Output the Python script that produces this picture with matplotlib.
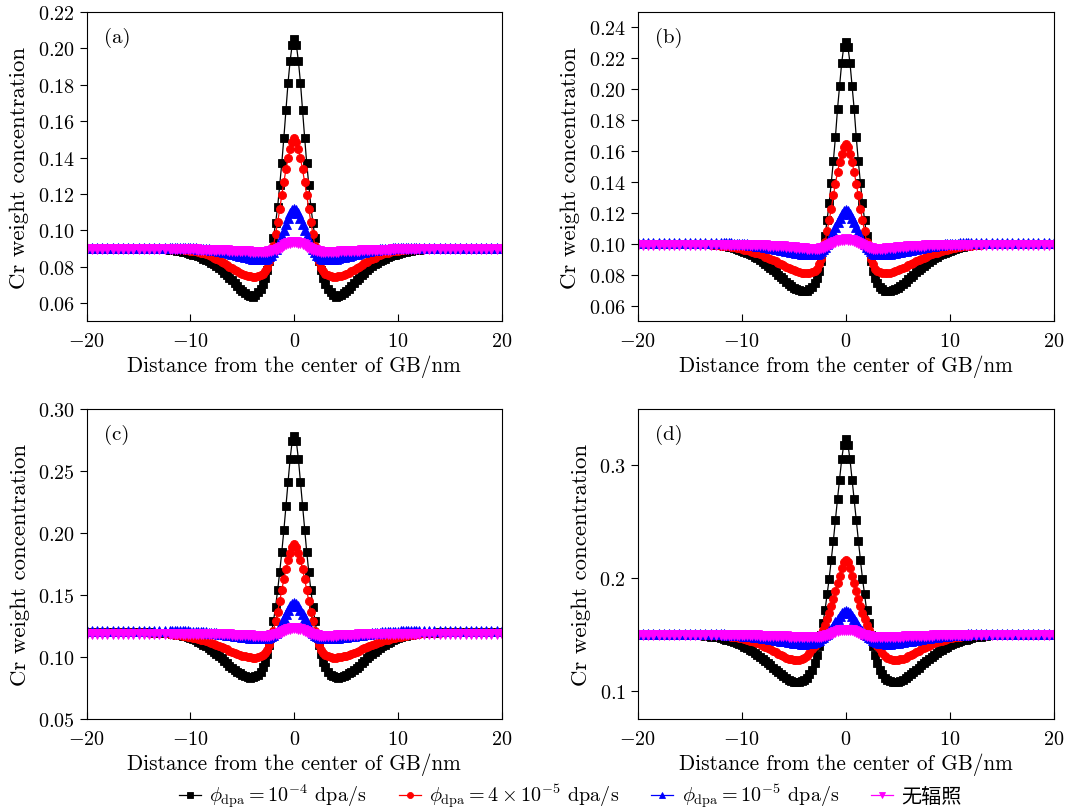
import numpy as np
import matplotlib
matplotlib.use("Agg")
import matplotlib.pyplot as plt

plt.rcParams["font.family"] = ["cmr10", "Noto Sans CJK SC"]
plt.rcParams["mathtext.fontset"] = "cm"
plt.rcParams["axes.formatter.use_mathtext"] = True
plt.rcParams["axes.unicode_minus"] = True

# sampling grid of one half of the profile (x >= 0), mirrored to x < 0
x_inner = np.round(np.arange(0.0, 3.01, 0.2), 2)      # 16 points
x_outer = np.arange(3.25, 12.01, 0.25)                # 36 points
x_far = np.arange(12.5, 20.01, 0.5)                   # 16 points
x_half = np.concatenate([x_inner, x_outer, x_far])

labels = [
    r"$\phi_{\mathrm{dpa}}=10^{-4}$ dpa/s",
    r"$\phi_{\mathrm{dpa}}=4\times10^{-5}$ dpa/s",
    r"$\phi_{\mathrm{dpa}}=10^{-5}$ dpa/s",
    "无辐照",
]
panel_names = ["(a)", "(b)", "(c)", "(d)"]

# ---- panel (a) ----
a_black = [0.2050, 0.2020, 0.1930, 0.1810, 0.1660, 0.1510, 0.1370, 0.1250,
           0.1130, 0.1040, 0.0960, 0.0890, 0.0830, 0.0780, 0.0740, 0.0705,
           0.0680, 0.0660, 0.0645, 0.0635, 0.0637, 0.0645, 0.0654, 0.0665,
           0.0680, 0.0695, 0.0710, 0.0725, 0.0740, 0.0755, 0.0768, 0.0780,
           0.0793, 0.0805, 0.0814, 0.0822, 0.0830, 0.0838, 0.0845, 0.0851,
           0.0857, 0.0862, 0.0867, 0.0871, 0.0875, 0.0879, 0.0882, 0.0885,
           0.0888, 0.0890, 0.0892, 0.0893,
           0.0896, 0.0898, 0.0899, 0.0900, 0.0900, 0.0900, 0.0900, 0.0900,
           0.0900, 0.0900, 0.0900, 0.0900, 0.0900, 0.0900, 0.0900, 0.0900]
a_red = [0.1505, 0.1486, 0.1445, 0.1395, 0.1335, 0.1265, 0.1195, 0.1115,
         0.1045, 0.0978, 0.0915, 0.0865, 0.0825, 0.0795, 0.0775, 0.0760,
         0.0753, 0.0748, 0.0746, 0.0745, 0.0747, 0.0750, 0.0755, 0.0760,
         0.0767, 0.0775, 0.0783, 0.0792, 0.0801, 0.0810, 0.0819, 0.0828,
         0.0836, 0.0843, 0.0850, 0.0857, 0.0863, 0.0868, 0.0873, 0.0877,
         0.0881, 0.0884, 0.0887, 0.0889, 0.0891, 0.0893, 0.0895, 0.0896,
         0.0897, 0.0898, 0.0899, 0.0899,
         0.0900, 0.0900, 0.0900, 0.0900, 0.0900, 0.0900, 0.0900, 0.0900,
         0.0900, 0.0900, 0.0900, 0.0900, 0.0900, 0.0900, 0.0900, 0.0900]
a_blue = [0.1120, 0.1113, 0.1095, 0.1068, 0.1035, 0.1002, 0.0970, 0.0942,
          0.0918, 0.0897, 0.0880, 0.0867, 0.0857, 0.0850, 0.0845, 0.0843,
          0.0842, 0.0842, 0.0843, 0.0845, 0.0848, 0.0851, 0.0854, 0.0858,
          0.0861, 0.0865, 0.0868, 0.0872, 0.0875, 0.0879, 0.0882, 0.0885,
          0.0888, 0.0890, 0.0892, 0.0894, 0.0896, 0.0897, 0.0898, 0.0899,
          0.0900, 0.0901, 0.0901, 0.0902, 0.0902, 0.0903, 0.0903, 0.0904,
          0.0904, 0.0904, 0.0905, 0.0905,
          0.0905, 0.0905, 0.0905, 0.0905, 0.0905, 0.0905, 0.0905, 0.0905,
          0.0905, 0.0905, 0.0905, 0.0905, 0.0905, 0.0905, 0.0905, 0.0905]
a_magenta = [0.0935, 0.0934, 0.0932, 0.0928, 0.0923, 0.0917, 0.0911, 0.0905,
             0.0899, 0.0894, 0.0890, 0.0886, 0.0884, 0.0882, 0.0881, 0.0881,
             0.0881, 0.0881, 0.0881, 0.0882, 0.0883, 0.0884, 0.0885, 0.0886,
             0.0886, 0.0887, 0.0888, 0.0889, 0.0889, 0.0890, 0.0890, 0.0891,
             0.0891, 0.0892, 0.0892, 0.0893, 0.0893, 0.0894, 0.0894, 0.0894,
             0.0894, 0.0895, 0.0895, 0.0895, 0.0895, 0.0895, 0.0895, 0.0895,
             0.0895, 0.0895, 0.0895, 0.0895,
             0.0895, 0.0895, 0.0895, 0.0895, 0.0895, 0.0895, 0.0895, 0.0895,
             0.0895, 0.0895, 0.0895, 0.0895, 0.0895, 0.0895, 0.0895, 0.0895]

# ---- panel (b) ----
b_black = [0.2303, 0.2275, 0.2170, 0.2024, 0.1873, 0.1691, 0.1536, 0.1396,
           0.1267, 0.1155, 0.1052, 0.0965, 0.0890, 0.0828, 0.0780, 0.0745,
           0.0724, 0.0708, 0.0699, 0.0695, 0.0696, 0.0700, 0.0708, 0.0718,
           0.0730, 0.0743, 0.0757, 0.0772, 0.0787, 0.0802, 0.0817, 0.0832,
           0.0846, 0.0860, 0.0873, 0.0885, 0.0896, 0.0907, 0.0917, 0.0926,
           0.0935, 0.0944, 0.0951, 0.0958, 0.0964, 0.0970, 0.0975, 0.0979,
           0.0983, 0.0986, 0.0989, 0.0991,
           0.0995, 0.0997, 0.0999, 0.1000, 0.1000, 0.1000, 0.1000, 0.1000,
           0.1000, 0.1000, 0.1000, 0.1000, 0.1000, 0.1000, 0.1000, 0.1000]
b_red = [0.1647, 0.1626, 0.1583, 0.1530, 0.1465, 0.1390, 0.1314, 0.1228,
         0.1153, 0.1082, 0.1013, 0.0955, 0.0905, 0.0868, 0.0840, 0.0825,
         0.0818, 0.0813, 0.0812, 0.0812, 0.0814, 0.0818, 0.0824, 0.0830,
         0.0837, 0.0845, 0.0853, 0.0862, 0.0871, 0.0880, 0.0889, 0.0897,
         0.0905, 0.0912, 0.0919, 0.0926, 0.0933, 0.0939, 0.0945, 0.0950,
         0.0955, 0.0960, 0.0964, 0.0968, 0.0972, 0.0975, 0.0978, 0.0981,
         0.0984, 0.0986, 0.0988, 0.0990,
         0.0993, 0.0996, 0.0998, 0.1000, 0.1000, 0.1000, 0.1000, 0.1000,
         0.1000, 0.1000, 0.1000, 0.1000, 0.1000, 0.1000, 0.1000, 0.1000]
b_blue = [0.1217, 0.1211, 0.1195, 0.1170, 0.1140, 0.1108, 0.1077, 0.1050,
          0.1025, 0.1003, 0.0983, 0.0966, 0.0953, 0.0944, 0.0938, 0.0935,
          0.0934, 0.0933, 0.0933, 0.0934, 0.0937, 0.0940, 0.0943, 0.0946,
          0.0950, 0.0953, 0.0957, 0.0960, 0.0964, 0.0967, 0.0970, 0.0973,
          0.0976, 0.0979, 0.0982, 0.0984, 0.0987, 0.0989, 0.0991, 0.0993,
          0.0995, 0.0997, 0.0999, 0.1000, 0.1001, 0.1002, 0.1003, 0.1004,
          0.1005, 0.1005, 0.1006, 0.1006,
          0.1007, 0.1008, 0.1008, 0.1008, 0.1008, 0.1008, 0.1008, 0.1008,
          0.1008, 0.1008, 0.1008, 0.1008, 0.1008, 0.1008, 0.1008, 0.1008]
b_magenta = [0.1030, 0.1029, 0.1027, 0.1023, 0.1018, 0.1012, 0.1005, 0.0998,
             0.0991, 0.0985, 0.0980, 0.0976, 0.0973, 0.0971, 0.0970, 0.0970,
             0.0970, 0.0970, 0.0971, 0.0972, 0.0973, 0.0975, 0.0976, 0.0978,
             0.0979, 0.0981, 0.0982, 0.0984, 0.0985, 0.0986, 0.0987, 0.0988,
             0.0989, 0.0990, 0.0991, 0.0992, 0.0992, 0.0993, 0.0993, 0.0994,
             0.0994, 0.0995, 0.0995, 0.0996, 0.0996, 0.0996, 0.0996, 0.0996,
             0.0996, 0.0996, 0.0996, 0.0996,
             0.0996, 0.0996, 0.0996, 0.0996, 0.0996, 0.0996, 0.0996, 0.0996,
             0.0996, 0.0996, 0.0996, 0.0996, 0.0996, 0.0996, 0.0996, 0.0996]

# ---- panel (c) ----
c_black = [0.2785, 0.2740, 0.2597, 0.2409, 0.2220, 0.2024, 0.1849, 0.1688,
           0.1540, 0.1406, 0.1293, 0.1190, 0.1100, 0.1025, 0.0965, 0.0918,
           0.0884, 0.0860, 0.0845, 0.0838, 0.0836, 0.0840, 0.0847, 0.0857,
           0.0870, 0.0884, 0.0899, 0.0915, 0.0933, 0.0952, 0.0971, 0.0990,
           0.1008, 0.1025, 0.1042, 0.1058, 0.1073, 0.1088, 0.1101, 0.1114,
           0.1125, 0.1136, 0.1145, 0.1154, 0.1161, 0.1168, 0.1174, 0.1179,
           0.1183, 0.1187, 0.1190, 0.1192,
           0.1195, 0.1197, 0.1199, 0.1200, 0.1200, 0.1200, 0.1200, 0.1200,
           0.1200, 0.1200, 0.1200, 0.1200, 0.1200, 0.1200, 0.1200, 0.1200]
c_red = [0.1911, 0.1888, 0.1840, 0.1781, 0.1710, 0.1628, 0.1544, 0.1450,
         0.1368, 0.1290, 0.1214, 0.1150, 0.1098, 0.1060, 0.1033, 0.1017,
         0.1007, 0.1000, 0.0997, 0.0997, 0.0999, 0.1002, 0.1007, 0.1013,
         0.1020, 0.1028, 0.1036, 0.1045, 0.1054, 0.1063, 0.1072, 0.1081,
         0.1090, 0.1098, 0.1106, 0.1114, 0.1121, 0.1128, 0.1135, 0.1141,
         0.1147, 0.1152, 0.1157, 0.1162, 0.1166, 0.1170, 0.1174, 0.1177,
         0.1180, 0.1183, 0.1186, 0.1188,
         0.1192, 0.1195, 0.1197, 0.1199, 0.1200, 0.1200, 0.1200, 0.1200,
         0.1200, 0.1200, 0.1200, 0.1200, 0.1200, 0.1200, 0.1200, 0.1200]
c_blue = [0.1436, 0.1429, 0.1410, 0.1382, 0.1348, 0.1312, 0.1277, 0.1246,
          0.1220, 0.1199, 0.1182, 0.1170, 0.1162, 0.1157, 0.1155, 0.1154,
          0.1153, 0.1153, 0.1154, 0.1155, 0.1157, 0.1159, 0.1162, 0.1165,
          0.1168, 0.1171, 0.1174, 0.1177, 0.1180, 0.1183, 0.1186, 0.1188,
          0.1191, 0.1193, 0.1195, 0.1197, 0.1199, 0.1200, 0.1202, 0.1203,
          0.1204, 0.1205, 0.1206, 0.1207, 0.1208, 0.1208, 0.1209, 0.1209,
          0.1210, 0.1210, 0.1211, 0.1211,
          0.1212, 0.1212, 0.1212, 0.1212, 0.1212, 0.1212, 0.1212, 0.1212,
          0.1212, 0.1212, 0.1212, 0.1212, 0.1212, 0.1212, 0.1212, 0.1212]
c_magenta = [0.1234, 0.1233, 0.1230, 0.1226, 0.1220, 0.1213, 0.1205, 0.1197,
             0.1190, 0.1184, 0.1179, 0.1176, 0.1174, 0.1173, 0.1172, 0.1172,
             0.1172, 0.1172, 0.1173, 0.1174, 0.1175, 0.1176, 0.1178, 0.1179,
             0.1180, 0.1181, 0.1182, 0.1183, 0.1184, 0.1185, 0.1186, 0.1187,
             0.1187, 0.1188, 0.1188, 0.1189, 0.1189, 0.1190, 0.1190, 0.1191,
             0.1191, 0.1191, 0.1191, 0.1191, 0.1191, 0.1191, 0.1191, 0.1191,
             0.1191, 0.1191, 0.1191, 0.1191,
             0.1191, 0.1191, 0.1191, 0.1191, 0.1191, 0.1191, 0.1191, 0.1191,
             0.1191, 0.1191, 0.1191, 0.1191, 0.1191, 0.1191, 0.1191, 0.1191]

# ---- panel (d) ----
d_black = [0.3232, 0.3185, 0.3053, 0.2875, 0.2703, 0.2519, 0.2332, 0.2162,
           0.1997, 0.1857, 0.1717, 0.1600, 0.1495, 0.1400, 0.1318, 0.1250,
           0.1190, 0.1150, 0.1120, 0.1100, 0.1087, 0.1080, 0.1078, 0.1082,
           0.1089, 0.1100, 0.1114, 0.1130, 0.1149, 0.1168, 0.1188, 0.1208,
           0.1228, 0.1248, 0.1268, 0.1287, 0.1305, 0.1322, 0.1338, 0.1354,
           0.1368, 0.1382, 0.1394, 0.1405, 0.1415, 0.1425, 0.1434, 0.1442,
           0.1449, 0.1456, 0.1462, 0.1467,
           0.1476, 0.1483, 0.1489, 0.1493, 0.1496, 0.1498, 0.1499, 0.1500,
           0.1500, 0.1500, 0.1500, 0.1500, 0.1500, 0.1500, 0.1500, 0.1500]
d_red = [0.2160, 0.2142, 0.2092, 0.2024, 0.1959, 0.1889, 0.1817, 0.1753,
         0.1689, 0.1636, 0.1582, 0.1545, 0.1508, 0.1470, 0.1435, 0.1403,
         0.1370, 0.1338, 0.1313, 0.1295, 0.1283, 0.1276, 0.1273, 0.1275,
         0.1280, 0.1288, 0.1297, 0.1308, 0.1320, 0.1332, 0.1345, 0.1357,
         0.1369, 0.1381, 0.1392, 0.1403, 0.1413, 0.1423, 0.1432, 0.1440,
         0.1447, 0.1454, 0.1460, 0.1466, 0.1471, 0.1475, 0.1479, 0.1483,
         0.1486, 0.1489, 0.1491, 0.1493,
         0.1496, 0.1498, 0.1499, 0.1500, 0.1500, 0.1500, 0.1500, 0.1500,
         0.1500, 0.1500, 0.1500, 0.1500, 0.1500, 0.1500, 0.1500, 0.1500]
d_blue = [0.1710, 0.1705, 0.1690, 0.1668, 0.1640, 0.1610, 0.1580, 0.1552,
          0.1528, 0.1510, 0.1496, 0.1482, 0.1468, 0.1455, 0.1445, 0.1437,
          0.1430, 0.1425, 0.1422, 0.1421, 0.1421, 0.1423, 0.1425, 0.1428,
          0.1432, 0.1436, 0.1440, 0.1444, 0.1448, 0.1452, 0.1456, 0.1460,
          0.1464, 0.1467, 0.1471, 0.1474, 0.1477, 0.1480, 0.1483, 0.1485,
          0.1487, 0.1489, 0.1491, 0.1493, 0.1495, 0.1496, 0.1498, 0.1499,
          0.1500, 0.1501, 0.1502, 0.1502,
          0.1503, 0.1504, 0.1505, 0.1505, 0.1505, 0.1505, 0.1505, 0.1505,
          0.1505, 0.1505, 0.1505, 0.1505, 0.1505, 0.1505, 0.1505, 0.1505]
d_magenta = [0.1545, 0.1544, 0.1541, 0.1537, 0.1531, 0.1524, 0.1517, 0.1509,
             0.1501, 0.1494, 0.1488, 0.1484, 0.1480, 0.1478, 0.1476, 0.1475,
             0.1475, 0.1475, 0.1475, 0.1476, 0.1477, 0.1478, 0.1479, 0.1480,
             0.1482, 0.1483, 0.1484, 0.1485, 0.1486, 0.1487, 0.1488, 0.1489,
             0.1490, 0.1491, 0.1491, 0.1492, 0.1492, 0.1493, 0.1493, 0.1494,
             0.1494, 0.1495, 0.1495, 0.1495, 0.1495, 0.1495, 0.1495, 0.1495,
             0.1495, 0.1495, 0.1495, 0.1495,
             0.1495, 0.1495, 0.1495, 0.1495, 0.1495, 0.1495, 0.1495, 0.1495,
             0.1495, 0.1495, 0.1495, 0.1495, 0.1495, 0.1495, 0.1495, 0.1495]

panels = [
    [a_black, a_red, a_blue, a_magenta],
    [b_black, b_red, b_blue, b_magenta],
    [c_black, c_red, c_blue, c_magenta],
    [d_black, d_red, d_blue, d_magenta],
]
y_limits = [(0.05, 0.22), (0.05, 0.25), (0.05, 0.30), (0.075, 0.35)]
y_ticks = [
    np.arange(0.06, 0.221, 0.02),
    np.arange(0.06, 0.241, 0.02),
    np.arange(0.05, 0.301, 0.05),
    [0.1, 0.2, 0.3],
]

colors = ["black", "red", "blue", "magenta"]
markers = ["s", "o", "^", "v"]
sizes = [5.3, 5.8, 6.6, 6.6]


def mirror(values):
    values = np.asarray(values)
    assert len(values) == len(x_half)
    return np.concatenate([values[:0:-1], values])


x_full = np.concatenate([-x_half[:0:-1], x_half])

fig = plt.figure(figsize=(10.7, 8.12), dpi=100)

# axes positions [left, bottom, width, height]
positions = [
    [0.081, 0.603, 0.388, 0.381],
    [0.596, 0.603, 0.389, 0.381],
    [0.081, 0.113, 0.388, 0.382],
    [0.596, 0.113, 0.389, 0.382],
]

handles = []
for i in range(4):
    ax = fig.add_axes(positions[i])
    for j in range(4):
        line, = ax.plot(x_full, mirror(panels[i][j]), color=colors[j],
                        marker=markers[j], markersize=sizes[j],
                        linewidth=0.9, markeredgewidth=0.6,
                        label=labels[j])
        if i == 0:
            handles.append(line)

    ax.set_xlim(-20, 20)
    ax.set_ylim(*y_limits[i])
    ax.set_xticks([-20, -10, 0, 10, 20])
    ax.set_yticks(y_ticks[i])
    ax.tick_params(axis="x", direction="in", length=5, labelsize=14.5, pad=8)
    ax.tick_params(axis="y", direction="out", length=5, labelsize=14.5)
    ax.set_xlabel("Distance from the center of GB/nm", fontsize=15.3,
                  labelpad=3)
    ax.set_ylabel("Cr weight concentration", fontsize=16.5, labelpad=6)
    ax.text(0.042, 0.92, panel_names[i], transform=ax.transAxes,
            fontsize=15, va="center", ha="left")

fig.legend(handles, labels, loc="center", bbox_to_anchor=(0.533, 0.0185),
           ncol=4, frameon=False, fontsize=14.5, handlelength=1.1,
           markerscale=0.75, columnspacing=1.6, handletextpad=0.4)

fig.savefig("out.png", dpi=100)
